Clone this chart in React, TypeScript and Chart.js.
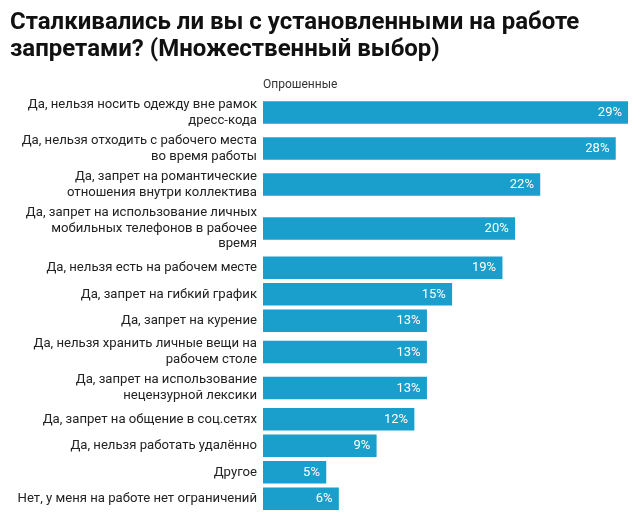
import React, { useEffect, useRef } from "react";
import { Chart, registerables } from "chart.js";

Chart.register(...registerables);

const titleLines = [
  "Сталкивались ли вы с установленными на работе",
  "запретами? (Множественный выбор)",
];
const seriesName = "Опрошенные";

const categories: string[][] = [
  ["Да, нельзя носить одежду вне рамок", "дресс-кода"],
  ["Да, нельзя отходить с рабочего места", "во время работы"],
  ["Да, запрет на романтические", "отношения внутри коллектива"],
  ["Да, запрет на использование личных", "мобильных телефонов в рабочее", "время"],
  ["Да, нельзя есть на рабочем месте"],
  ["Да, запрет на гибкий график"],
  ["Да, запрет на курение"],
  ["Да, нельзя хранить личные вещи на", "рабочем столе"],
  ["Да, запрет на использование", "нецензурной лексики"],
  ["Да, запрет на общение в соц.сетях"],
  ["Да, нельзя работать удалённо"],
  ["Другое"],
  ["Нет, у меня на работе нет ограничений"],
];

const values = [29, 28, 22, 20, 19, 15, 13, 13, 13, 12, 9, 5, 6];

// Row layout: each row is tall enough for its label lines (Datawrapper style)
const MIN_ROW = 26.5;
const LINE_H = 16;
const rowHeights = categories.map((lines) => Math.max(MIN_ROW, lines.length * LINE_H + 4));
const rowCenters: number[] = [];
{
  let acc = 0;
  rowHeights.forEach((h) => {
    rowCenters.push(acc + h / 2);
    acc += h;
  });
}
const totalRows = rowHeights.reduce((a, b) => a + b, 0);

const valueLabelPlugin = {
  id: "valueLabels",
  afterDatasetsDraw(chart: any) {
    const { ctx } = chart;
    const meta = chart.getDatasetMeta(0);
    ctx.save();
    ctx.font = "13px Roboto";
    ctx.fillStyle = "#ffffff";
    ctx.textAlign = "right";
    ctx.textBaseline = "middle";
    meta.data.forEach((el: any, i: number) => {
      ctx.fillText(`${values[i]}%`, el.x - 6, el.y + 0.5);
    });
    ctx.restore();
  },
};

export default function App() {
  const canvasRef = useRef<HTMLCanvasElement | null>(null);

  useEffect(() => {
    if (!canvasRef.current) return;
    const chart = new Chart(canvasRef.current, {
      type: "bar",
      data: {
        datasets: [
          {
            label: seriesName,
            data: values.map((v, i) => ({ x: v, y: rowCenters[i] })),
            backgroundColor: "#1a9fcc",
            borderWidth: 0,
            barThickness: 21.7,
          },
        ],
      },
      plugins: [valueLabelPlugin],
      options: {
        indexAxis: "y",
        responsive: true,
        maintainAspectRatio: false,
        animation: false,
        layout: { padding: { left: 10, right: 12, top: 0, bottom: 16 } },
        plugins: {
          legend: { display: false },
          tooltip: { enabled: false },
          title: {
            display: true,
            text: titleLines,
            align: "start",
            color: "#111111",
            font: { family: "Roboto", size: 24, weight: "bold", lineHeight: 1.108 },
            padding: { top: 10.2, bottom: 0 },
          },
        },
        scales: {
          x: {
            type: "linear",
            position: "top",
            min: 0,
            max: 29,
            offset: false,
            grid: { display: false, drawTicks: false },
            border: { display: false },
            ticks: { display: false },
            title: {
              display: true,
              text: seriesName,
              align: "start",
              color: "#333333",
              font: { family: "Roboto", size: 12, lineHeight: 1.2 },
              padding: { top: 14.5, bottom: 0 },
            },
            afterFit: (scale: any) => {
              scale.height = 31.1;
              scale.paddingLeft = 0;
              scale.paddingRight = 0;
            },
          },
          y: {
            type: "linear",
            reverse: true,
            min: 0,
            max: totalRows,
            offset: false,
            grid: { display: false, drawTicks: false, offset: false },
            border: { display: false },
            afterBuildTicks: (scale: any) => {
              scale.ticks = rowCenters.map((v) => ({ value: v }));
            },
            afterFit: (scale: any) => {
              scale.width = 253;
              scale.paddingTop = 0;
              scale.paddingBottom = 0;
            },
            ticks: {
              autoSkip: false,
              padding: 6,
              color: "#222222",
              font: { family: "Roboto", size: 13.15, lineHeight: 1.19 },
              callback: (_value: any, index: number) => categories[index],
            },
          },
        },
      },
    } as any);
    return () => chart.destroy();
  }, []);

  return (
    <div
      style={{
        position: "fixed",
        left: 0,
        top: 0,
        width: 640,
        height: 528,
        background: "#ffffff",
      }}
    >
      <canvas ref={canvasRef} />
    </div>
  );
}
